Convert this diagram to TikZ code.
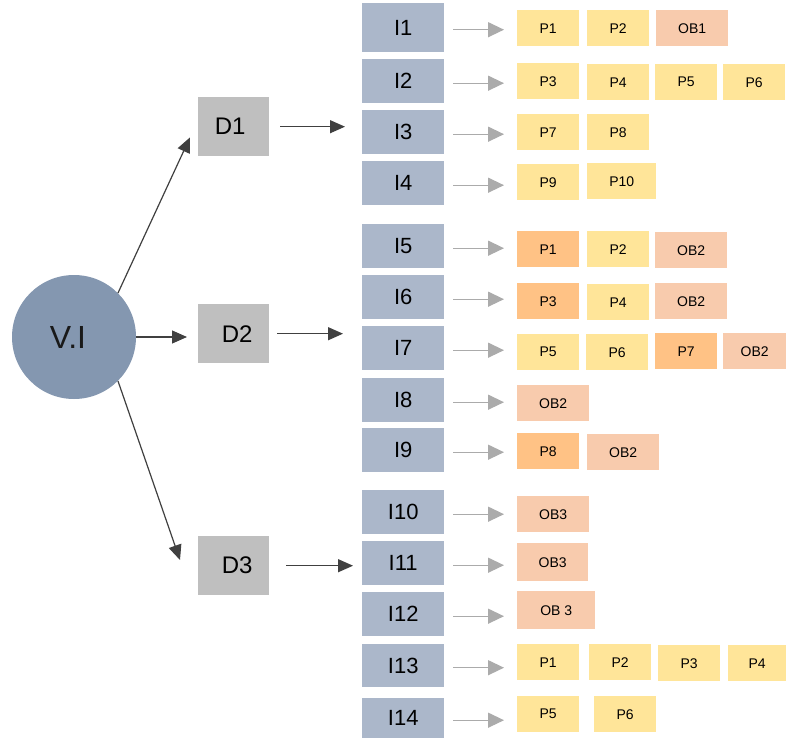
\documentclass[tikz,border=0pt]{standalone}
\usepackage{fontspec}
\setmainfont{Liberation Sans}
\usetikzlibrary{arrows.meta}

\definecolor{circfill}{HTML}{8497B0}
\definecolor{dfill}{HTML}{BFBFBF}
\definecolor{ifill}{HTML}{ABB7CA}
\definecolor{yfill}{HTML}{FFE599}
\definecolor{ofill}{HTML}{FFC285}
\definecolor{sfill}{HTML}{F8CBAD}
\definecolor{darkline}{HTML}{404040}
\definecolor{greyline}{HTML}{ABABAB}

\tikzset{
  base/.style={rectangle, inner sep=0pt, anchor=north west, text=black},
  dbox/.style={base, fill=dfill, minimum width=71pt, minimum height=59pt,
               font=\fontsize{24}{24}\selectfont},
  ibox/.style={base, fill=ifill, minimum width=82pt,
               font=\fontsize{22}{22}\selectfont},
  pbox/.style={base, minimum height=36pt, font=\fontsize{14}{14}\selectfont},
  ybox/.style={pbox, fill=yfill},
  obox/.style={pbox, fill=ofill},
  sbox/.style={pbox, fill=sfill},
  darrow/.style={draw=darkline, line width=1.2pt,
                 -{Triangle[length=15pt,width=13pt]}},
  garrow/.style={draw=greyline, line width=1.3pt,
                 -{Triangle[length=16pt,width=15pt]},
                 shorten <=9pt, shorten >=13pt},
}

\begin{document}
\begin{tikzpicture}[x=1pt, y=-1pt]
\useasboundingbox (0,0) rectangle (786,738);
\fill[white] (0,0) rectangle (786,738);

% root circle
\node[circle, fill=circfill, minimum size=124pt, inner sep=0pt,
      font=\fontsize{32}{32}\selectfont, text=black!90] (V) at (74,337) {\hspace*{-12pt}V.I};

% level D
\node[dbox] (D1) at (198,97)  {\hspace*{-7pt}D1};
\node[dbox] (D2) at (198,304) {\hspace*{7pt}D2};
\node[dbox] (D3) at (198,536) {\hspace*{7pt}D3};

% level I
\node[ibox, minimum height=49pt] (I1)  at (362,3)   {I1};
\node[ibox, minimum height=44pt] (I2)  at (362,59)  {I2};
\node[ibox, minimum height=44pt] (I3)  at (362,110) {I3};
\node[ibox, minimum height=44pt] (I4)  at (362,161) {I4};
\node[ibox, minimum height=44pt] (I5)  at (362,224) {I5};
\node[ibox, minimum height=44pt] (I6)  at (362,275) {I6};
\node[ibox, minimum height=44pt] (I7)  at (362,326) {I7};
\node[ibox, minimum height=44pt] (I8)  at (362,378) {I8};
\node[ibox, minimum height=44pt] (I9)  at (362,428) {I9};
\node[ibox, minimum height=44pt] (I10) at (362,490) {I10};
\node[ibox, minimum height=44pt] (I11) at (362,541) {I11};
\node[ibox, minimum height=44pt] (I12) at (362,592) {I12};
\node[ibox, minimum height=43pt] (I13) at (362,644) {I13};
\node[ibox, minimum height=40pt] (I14) at (362,698) {I14};

% level P / OB
\node[ybox, minimum width=62pt] (a1) at (517,10)  {P1};
\node[ybox, minimum width=62pt] (b1) at (587,10)  {P2};
\node[sbox, minimum width=72pt] (c1) at (656,10)  {OB1};

\node[ybox, minimum width=62pt] (a2) at (517,63)  {P3};
\node[ybox, minimum width=62pt] (b2) at (587,64)  {P4};
\node[ybox, minimum width=62pt] (c2) at (655,64)  {P5};
\node[ybox, minimum width=62pt] (d2) at (723,64)  {P6};

\node[ybox, minimum width=62pt] (a3) at (517,114) {P7};
\node[ybox, minimum width=62pt] (b3) at (587,114) {P8};

\node[ybox, minimum width=62pt] (a4) at (517,164) {P9};
\node[ybox, minimum width=69pt] (b4) at (587,163) {P10};

\node[obox, minimum width=62pt] (a5) at (517,231) {P1};
\node[ybox, minimum width=62pt] (b5) at (587,231) {P2};
\node[sbox, minimum width=72pt] (c5) at (655,232) {OB2};

\node[obox, minimum width=62pt] (a6) at (517,283) {P3};
\node[ybox, minimum width=62pt] (b6) at (587,284) {P4};
\node[sbox, minimum width=72pt] (c6) at (655,283) {OB2};

\node[ybox, minimum width=62pt] (a7) at (517,334) {P5};
\node[ybox, minimum width=62pt] (b7) at (586,334) {P6};
\node[obox, minimum width=62pt] (c7) at (655,333) {P7};
\node[sbox, minimum width=63pt] (d7) at (723,333) {OB2};

\node[sbox, minimum width=72pt] (a8) at (517,385) {OB2};

\node[obox, minimum width=62pt] (a9) at (517,433) {P8};
\node[sbox, minimum width=72pt] (b9) at (587,434) {OB2};

\node[sbox, minimum width=72pt] (a10) at (517,496) {OB3};
\node[sbox, minimum width=71pt, minimum height=38pt] (a11) at (517,543) {OB3};
\node[sbox, minimum width=78pt, minimum height=38pt] (a12) at (517,591) {OB 3};

\node[ybox, minimum width=62pt] (a13) at (517,644) {P1};
\node[ybox, minimum width=62pt] (b13) at (589,644) {P2};
\node[ybox, minimum width=62pt] (c13) at (658,645) {P3};
\node[ybox, minimum width=58pt] (d13) at (728,645) {P4};

\node[ybox, minimum width=62pt] (a14) at (517,696) {P5};
\node[ybox, minimum width=62pt] (b14) at (594,696) {P6};

% root to D
\draw[darrow] (V.45) -- ([xshift=-8pt,yshift=19pt]D1.south west);
\draw[darrow, shorten >=11pt] (V.east) -- (V.east -| D2.west);
\draw[darrow] (V.-45) -- ([xshift=-18pt,yshift=-24pt]D3.north west);

% D to I
\draw[darrow, shorten <=11pt, shorten >=17pt] (D1.east) -- (D1.east -| I3.west);
\draw[darrow, shorten <=8pt,  shorten >=19pt] (D2.east) -- (D2.east -| I7.west);
\draw[darrow, shorten <=17pt, shorten >=9pt]  (D3.east) -- (D3.east -| I11.west);

% I to P
\foreach \k in {1,...,14}{
  \draw[garrow] ([yshift=-2pt]I\k.east) -- ([yshift=-2pt]I\k.east -| a\k.west);
}
\end{tikzpicture}
\end{document}
